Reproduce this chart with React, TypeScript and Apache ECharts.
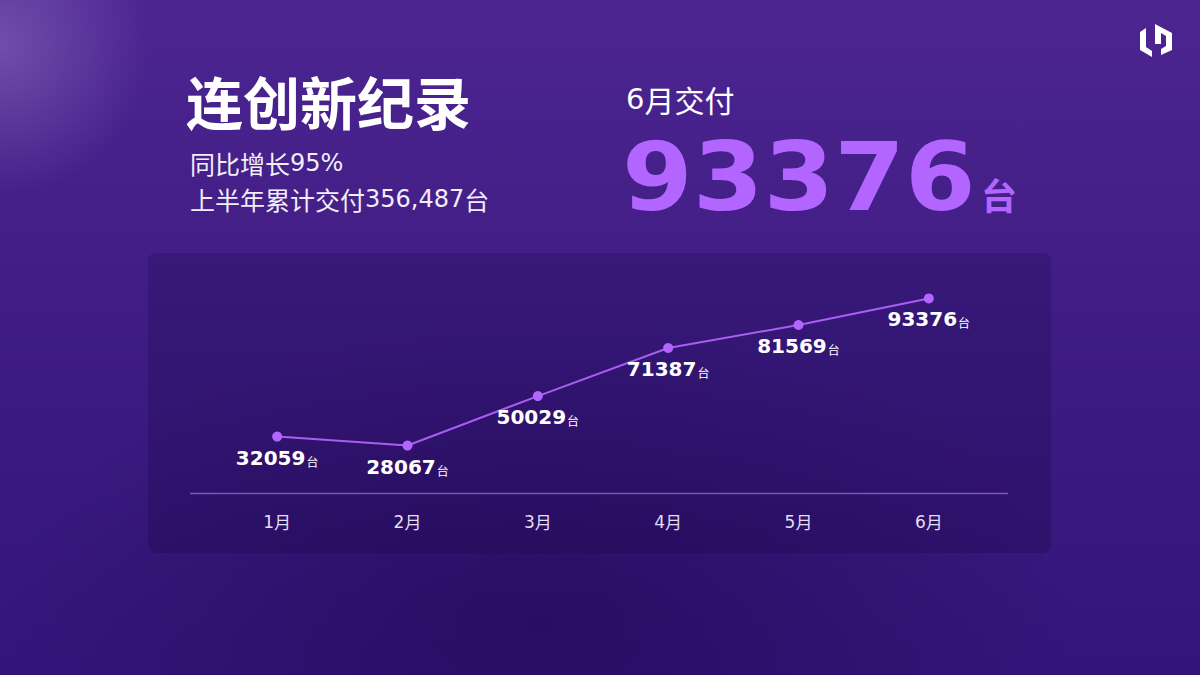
import React, { useEffect, useRef } from "react";
import * as echarts from "echarts";

const months = ["1月", "2月", "3月", "4月", "5月", "6月"];
const deliveries = [32059, 28067, 50029, 71387, 81569, 93376];
const titleText = "连创新纪录";
const subLine1 = ["同比增长", "95%"];
const subLine2 = ["上半年累计交付", "356,487", "台"];
const headLabel = ["6", "月交付"];
const headValue = "93376";
const unit = "台";

const CJK = '"Noto Sans CJK SC", "Noto Sans", sans-serif';
const NUM = '"DejaVu Sans", "Noto Sans", sans-serif';

export default function App() {
  const ref = useRef<HTMLDivElement>(null);
  useEffect(() => {
    if (!ref.current) return;
    const chart = echarts.init(ref.current, undefined, { renderer: "svg" });
    const subRich = {
      c: { fontFamily: CJK, fontSize: 25, fill: "#f2eefa" },
      d: { fontFamily: NUM, fontSize: 24, fill: "#f2eefa" },
    };
    const option: any = {
      animation: false,
      backgroundColor: {
        type: "linear",
        x: 0,
        y: 0,
        x2: 0,
        y2: 1,
        colorStops: [
          { offset: 0, color: "#4d2591" },
          { offset: 0.5, color: "#3e1c82" },
          { offset: 1, color: "#33157a" },
        ],
      },
      graphic: [
        {
          type: "rect",
          z: -10,
          silent: true,
          shape: { x: 0, y: 0, width: 1200, height: 675 },
          style: {
            fill: {
              type: "radial",
              x: 0.45,
              y: 0.92,
              r: 0.45,
              colorStops: [
                { offset: 0, color: "rgba(28,6,78,0.55)" },
                { offset: 1, color: "rgba(28,6,78,0)" },
              ],
            },
          },
        },
        {
          type: "circle",
          z: -9,
          silent: true,
          shape: { cx: 0, cy: 45, r: 150 },
          style: {
            fill: {
              type: "radial",
              x: 0.5,
              y: 0.5,
              r: 0.5,
              colorStops: [
                { offset: 0, color: "rgba(150,120,200,0.5)" },
                { offset: 1, color: "rgba(150,120,200,0)" },
              ],
            },
          },
        },
        {
          type: "rect",
          z: -8,
          silent: true,
          shape: { x: 148, y: 253, width: 903, height: 300, r: 8 },
          style: {
            fill: {
              type: "linear",
              x: 0,
              y: 0,
              x2: 0,
              y2: 1,
              colorStops: [
                { offset: 0, color: "rgba(36,12,96,0.32)" },
                { offset: 1, color: "rgba(30,8,80,0.38)" },
              ],
            },
          },
        },
        {
          type: "line",
          z: 1,
          silent: true,
          shape: { x1: 190, y1: 493.5, x2: 1008, y2: 493.5 },
          style: { stroke: "rgba(150,110,215,0.75)", lineWidth: 1.5 },
        },
        {
          type: "text",
          left: 186,
          top: 71,
          style: {
            text: titleText,
            font: `bold 57px ${CJK}`,
            fill: "#ffffff",
          },
        },
        {
          type: "text",
          left: 190,
          top: 150,
          style: {
            text: `{c|${subLine1[0]}}{d|${subLine1[1]}}`,
            rich: subRich,
          },
        },
        {
          type: "text",
          left: 190,
          top: 186,
          style: {
            text: `{c|${subLine2[0]}}{d|${subLine2[1]}}{c|${subLine2[2]}}`,
            rich: subRich,
          },
        },
        {
          type: "text",
          left: 626,
          top: 84,
          style: {
            text: `{d|${headLabel[0]}}{c|${headLabel[1]}}`,
            rich: {
              c: { fontFamily: CJK, fontSize: 30, fill: "#ffffff" },
              d: { fontFamily: NUM, fontSize: 29, fill: "#ffffff" },
            },
          },
        },
        {
          type: "text",
          x: 622,
          y: 130,
          scaleX: 1.07,
          style: {
            text: headValue,
            font: `bold 95px ${NUM}`,
            fill: "#b366ff",
          },
        },
        {
          type: "text",
          left: 981,
          top: 176,
          style: {
            text: unit,
            font: `bold 36px ${CJK}`,
            fill: "#b366ff",
          },
        },
        {
          type: "group",
          left: 1140,
          top: 24,
          children: [
            {
              type: "polygon",
              shape: {
                points: [
                  [1, 8],
                  [7, 4],
                  [7, 23],
                  [13, 27],
                  [13, 33],
                  [1, 26],
                ],
              },
              style: { fill: "#ffffff" },
            },
            {
              type: "polygon",
              shape: {
                points: [
                  [16, 0],
                  [33, 9],
                  [33, 26],
                  [22, 31],
                  [22, 25],
                  [27, 22],
                  [27, 12],
                  [22, 9],
                  [22, 20],
                  [16, 20],
                ],
              },
              style: { fill: "#ffffff" },
            },
          ],
        },
      ],
      grid: { left: 212, right: 206, top: 270, bottom: 182 },
      xAxis: {
        type: "category",
        data: months,
        boundaryGap: true,
        axisLine: { show: false },
        axisTick: { show: false },
        axisLabel: {
          margin: 20,
          formatter: (v: string) => `{d|${v.slice(0, -1)}}{c|${v.slice(-1)}}`,
          rich: {
            d: { fontFamily: NUM, fontSize: 17, color: "#e6def5" },
            c: { fontFamily: CJK, fontSize: 17, color: "#e6def5" },
          },
        },
      },
      yAxis: {
        type: "value",
        min: 7000,
        max: 106000,
        show: false,
        splitLine: { show: false },
      },
      series: [
        {
          type: "line",
          data: deliveries,
          symbol: "circle",
          symbolSize: 10,
          lineStyle: { color: "#a85ef2", width: 2 },
          itemStyle: { color: "#b266ff" },
          label: {
            show: true,
            position: "bottom",
            distance: 6,
            formatter: (p: any) => `{n|${p.value}}{u|${unit}}`,
            rich: {
              n: {
                fontFamily: NUM,
                fontWeight: "bold",
                fontSize: 20,
                color: "#ffffff",
              },
              u: {
                fontFamily: CJK,
                fontSize: 12,
                color: "#ffffff",
                padding: [7, 0, 0, 1],
              },
            },
          },
        },
      ],
    };
    chart.setOption(option);
    return () => chart.dispose();
  }, []);
  return (
    <div
      ref={ref}
      style={{ width: 1200, height: 675, position: "absolute", left: 0, top: 0 }}
    />
  );
}
